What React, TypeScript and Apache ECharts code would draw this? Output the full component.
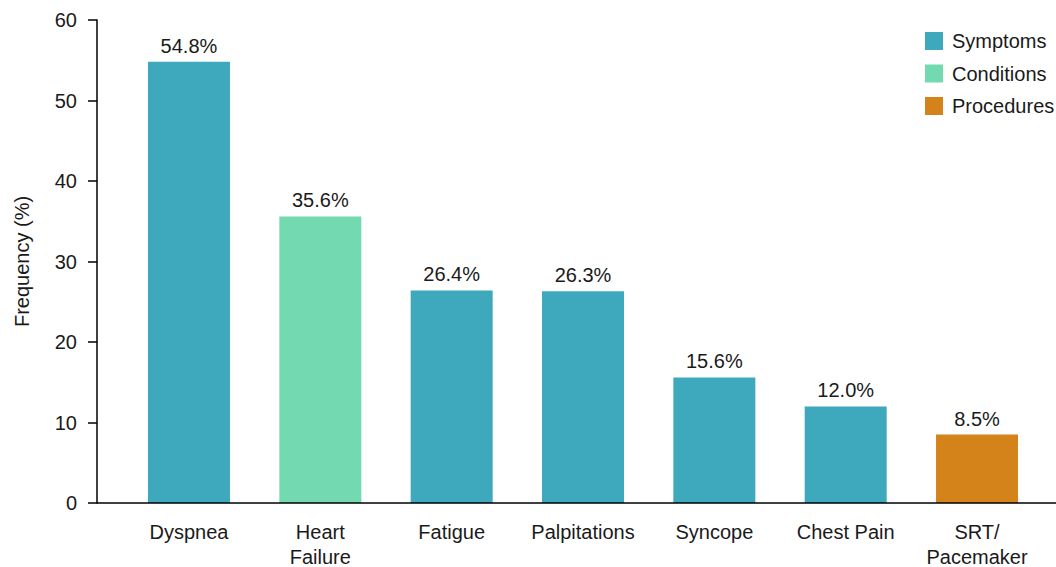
import React, { useEffect, useRef } from "react";
import * as echarts from "echarts";

const categories = [
  "Dyspnea",
  "Heart\nFailure",
  "Fatigue",
  "Palpitations",
  "Syncope",
  "Chest Pain",
  "SRT/\nPacemaker",
];
const symptoms = [54.8, null, 26.4, 26.3, 15.6, 12.0, null];
const conditions = [null, 35.6, null, null, null, null, null];
const procedures = [null, null, null, null, null, null, 8.5];
const yTicks = { min: 0, max: 60, interval: 10 };

const COLORS = {
  Symptoms: "#3EA8BC",
  Conditions: "#73D9B1",
  Procedures: "#D4831A",
};

const FONT = "Liberation Sans, Arial, sans-serif";
const TEXT = "#1a1a1a";
const FS = 20;

export default function App() {
  const ref = useRef<HTMLDivElement>(null);

  useEffect(() => {
    if (!ref.current) return;
    const chart = echarts.init(ref.current, null, { renderer: "svg" });

    const makeSeries = (name: keyof typeof COLORS, data: (number | null)[]) => ({
      name,
      type: "bar",
      data,
      barWidth: 82,
      barGap: "-100%",
      itemStyle: { color: COLORS[name] },
      label: {
        show: true,
        position: "top",
        distance: 6,
        fontFamily: FONT,
        fontSize: FS,
        color: TEXT,
        formatter: (p: any) => `${Number(p.value).toFixed(1)}%`,
      },
    });

    chart.setOption({
      animation: false,
      textStyle: { fontFamily: FONT },
      grid: {
        left: 123.3,
        right: 13.3,
        top: 20,
        bottom: 64,
        containLabel: false,
        outerBoundsMode: "none",
      },
      legend: {
        orient: "vertical",
        left: 920,
        top: 26,
        itemWidth: 18,
        itemHeight: 18,
        itemGap: 12.5,
        icon: "rect",
        textStyle: { fontFamily: FONT, fontSize: FS, color: TEXT, padding: [0, 0, 0, 4] },
        data: ["Symptoms", "Conditions", "Procedures"],
      },
      xAxis: {
        type: "category",
        data: categories,
        axisLine: { show: false },
        axisTick: { show: false },
        axisLabel: {
          fontFamily: FONT,
          fontSize: FS,
          color: TEXT,
          lineHeight: 25,
          margin: 16,
          interval: 0,
        },
      },
      yAxis: {
        type: "value",
        min: yTicks.min,
        max: yTicks.max,
        interval: yTicks.interval,
        offset: 26.3,
        name: "Frequency (%)",
        nameLocation: "middle",
        nameGap: 65,
        nameTextStyle: { fontFamily: FONT, fontSize: FS, color: TEXT },
        axisLine: { show: true, lineStyle: { color: "#000", width: 1.5 } },
        axisTick: { show: true, length: 9, lineStyle: { color: "#000", width: 1.5 } },
        axisLabel: { fontFamily: FONT, fontSize: FS, color: TEXT, margin: 20 },
        splitLine: { show: false },
      },
      series: [
        makeSeries("Symptoms", symptoms),
        makeSeries("Conditions", conditions),
        makeSeries("Procedures", procedures),
      ],
    });

    // Baseline runs from the offset y-axis to the right edge, at the value-axis zero.
    const y0 = chart.convertToPixel({ yAxisIndex: 0 }, 0) as number;
    chart.setOption({
      graphic: [
        {
          type: "line",
          shape: { x1: 97, y1: y0, x2: chart.getWidth(), y2: y0 },
          style: { stroke: "#000", lineWidth: 1.5 },
          z: 10,
        },
      ],
    });

    return () => chart.dispose();
  }, []);

  return <div ref={ref} style={{ width: 1056, height: 567, position: "absolute", left: 0, top: 0 }} />;
}
